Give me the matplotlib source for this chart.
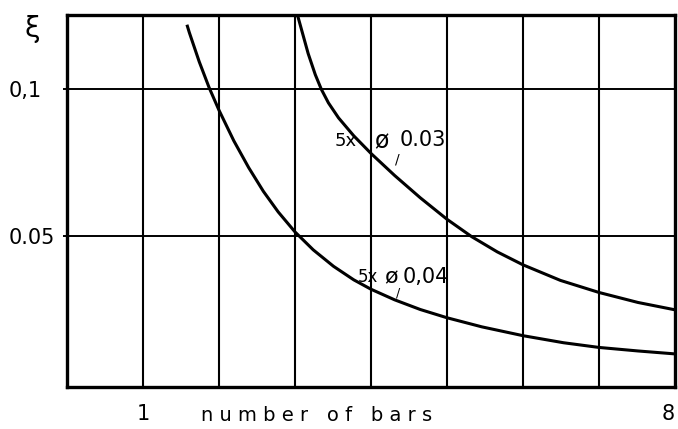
import matplotlib
matplotlib.use('Agg')
import matplotlib.pyplot as plt

# lower curve: 5 x ø 0,04
barsLow = [1.584, 1.61, 1.74, 1.87, 2.0, 2.195, 2.39, 2.584, 2.779, 3.0, 3.24, 3.507,
           3.773, 4.0, 4.311, 4.649, 5.0, 5.459, 6.0, 6.533, 7.0, 7.513, 8.0]
xiLow = [0.1214, 0.1192, 0.1093, 0.1005, 0.0928, 0.0824, 0.0733, 0.0652, 0.0582, 0.0514,
         0.0453, 0.0397, 0.0351, 0.0319, 0.0283, 0.0250, 0.0222, 0.0191, 0.0161, 0.0137,
         0.0121, 0.0109, 0.0099]

# upper curve: 5 x ø 0.03
barsUp = [3.04, 3.173, 3.267, 3.347, 3.44, 3.573, 3.773, 4.0, 4.311, 4.649, 5.0, 5.324,
          5.662, 6.0, 6.493, 7.0, 7.513, 8.0]
xiUp = [0.1245, 0.1121, 0.1049, 0.0999, 0.0953, 0.0902, 0.0841, 0.0781, 0.0706, 0.0630,
        0.0557, 0.0498, 0.0446, 0.0402, 0.0349, 0.0308, 0.0274, 0.0249]

yTicks = [0.05, 0.1]
yTickLabels = ['0.05', '0,1']
xTicks = [1, 8]
xTickLabels = ['1', '8']

fig = plt.figure(figsize=(6.78, 4.29), dpi=100)
ax = fig.add_axes([67/678, 1 - 387/429, 608/678, 372/429])

ax.set_xlim(0, 8)
ax.set_ylim(-0.00136, 0.1252)

# grid
for gx in range(1, 8):
    ax.axvline(gx, color='black', lw=1.5, zorder=1)
for gy in yTicks:
    ax.axhline(gy, color='black', lw=1.4, zorder=1)

ax.plot(barsLow, xiLow, color='black', lw=2.2, zorder=3, solid_joinstyle='round')
ax.plot(barsUp, xiUp, color='black', lw=2.2, zorder=3, solid_joinstyle='round')

for s in ax.spines.values():
    s.set_linewidth(2.4)

ax.set_yticks(yTicks)
ax.set_yticklabels(yTickLabels, fontsize=15)
for lab in ax.get_yticklabels():
    lab.set_horizontalalignment('left')
ax.tick_params(axis='y', length=3, width=1.4, pad=39)

ax.set_xticks(xTicks)
ax.set_xticklabels(xTickLabels, fontsize=15)
ax.get_xticklabels()[1].set_horizontalalignment('right')
ax.tick_params(axis='x', length=0, pad=12)

ax.text(-0.45, 0.1204, 'ξ', fontsize=20, ha='center', va='center')
ax.text(3.28, -0.0112, 'n u m b e r   o f   b a r s', fontsize=14, ha='center', va='center')

# curve labels
ax.text(3.66, 0.0823, '5x', fontsize=13, ha='center', va='center')
ax.text(4.14, 0.0823, 'ø', fontsize=17, ha='center', va='center')
ax.text(4.38, 0.0826, '0.03', fontsize=15, ha='left', va='center')
ax.text(4.34, 0.0759, '/', fontsize=10, ha='center', va='center')

ax.text(3.96, 0.0361, '5x', fontsize=12, ha='center', va='center')
ax.text(4.26, 0.0361, 'ø', fontsize=16, ha='center', va='center')
ax.text(4.41, 0.0361, '0,04', fontsize=15, ha='left', va='center')
ax.text(4.36, 0.0306, '/', fontsize=9, ha='center', va='center')

fig.savefig('out.png', dpi=100)
